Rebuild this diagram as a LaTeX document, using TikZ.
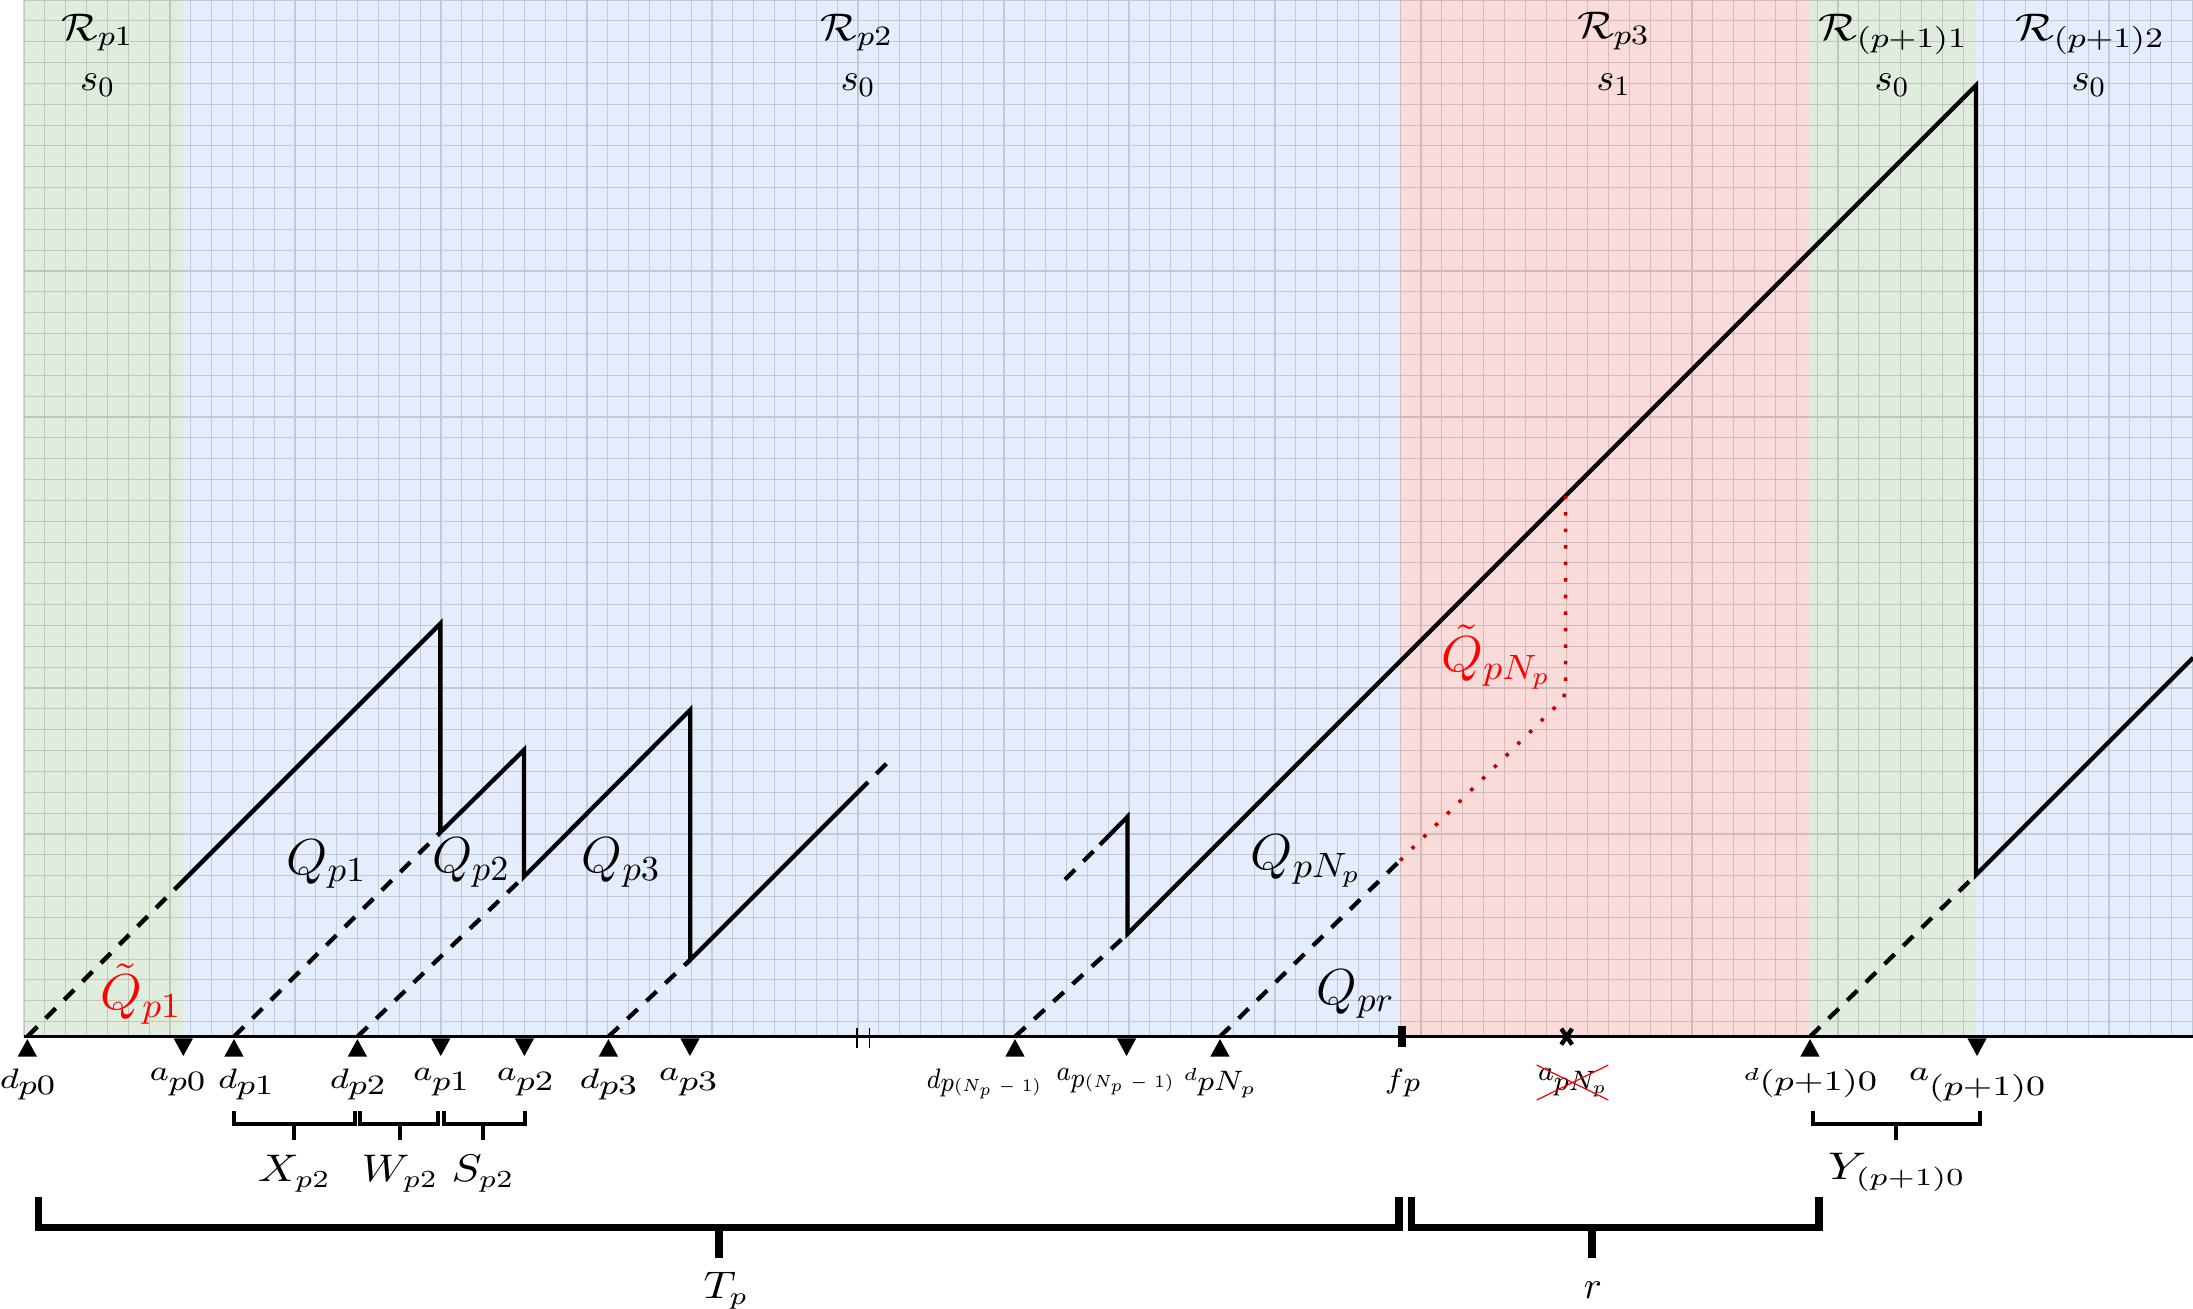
\documentclass[tikz,border=0pt]{standalone}
\usepackage{graphicx}
\usetikzlibrary{shapes.misc}
\definecolor{bgGreen}{RGB}{224,237,222}
\definecolor{bgBlue}{RGB}{228,237,252}
\definecolor{bgRed}{RGB}{249,219,218}
\definecolor{dotRed}{RGB}{200,0,0}
\newcommand\fw[2]{\resizebox{#1}{\height}{#2}}
\newcommand\axl[4]{\resizebox{#4}{\height}{$#1$\raisebox{-#3}{$#2$}}}
\tikzset{
  gridline/.style={black, opacity=0.15, line width=0.32pt},
  curve/.style={line width=1.22pt, line join=miter},
  dashcurve/.style={line width=1.22pt, dash pattern=on 4pt off 3.4pt},
  reddot/.style={dotRed, line width=1pt, dash pattern=on 1pt off 3.7pt},
  axisline/.style={line width=0.65pt},
  smallbr/.style={line width=1.14pt, line join=miter},
  bigbr/.style={line width=2.13pt, line join=miter},
  lbl/.style={inner sep=0pt, outer sep=0pt},
  qlab/.style={lbl, font=\fontsize{14.4}{16}\selectfont, anchor=base},
  rlab/.style={lbl, font=\fontsize{11}{13}\selectfont, anchor=base},
  blab/.style={lbl, font=\fontsize{10.5}{12}\selectfont, anchor=base},
  alab/.style={lbl, font=\fontsize{7.6}{9}\selectfont, anchor=north},
  dtri/.pic={\fill (0,-0.12) -- (0.465,-0.96) -- (-0.465,-0.96) -- cycle;},
  atri/.pic={\fill (-0.465,-0.08) -- (0.465,-0.08) -- (0,-0.93) -- cycle;},
}
\begin{document}
\begin{tikzpicture}[x=2.085mm, y=2.085mm]
\useasboundingbox (-1.151,-13.06) rectangle (104.03,49.72);
% regions
\fill[bgGreen] (0,0) rectangle (7.64,49.72);
\fill[bgBlue] (7.64,0) rectangle (66,49.72);
\fill[bgRed] (66,0) rectangle (85.62,49.72);
\fill[bgGreen] (85.62,0) rectangle (93.6,49.72);
\fill[bgBlue] (93.6,0) rectangle (104.03,49.72);
% grid
\draw[gridline] \foreach \i in {0,...,104}{(\i,0) -- (\i,49.72)}
  \foreach \j in {0,...,49}{(0,{0.72+\j}) -- (104.03,{0.72+\j})};
% axis
\coordinate (O) at (0,0);
\coordinate (Oend) at (104.03,0);
\draw[axisline] (O) -- (Oend);
% markers
\coordinate (d0) at (0.16,0);
\coordinate (a0) at (7.64,0);
\coordinate (d1) at (10.07,0);
\coordinate (d2) at (15.99,0);
\coordinate (a1) at (19.99,0);
\coordinate (a2) at (24.0,0);
\coordinate (d3) at (28.03,0);
\coordinate (a3) at (31.94,0);
\coordinate (brk) at (40.25,0);
\coordinate (dN1) at (47.53,0);
\coordinate (aN1) at (52.88,0);
\coordinate (dN) at (57.36,0);
\coordinate (fp) at (66.08,0);
\coordinate (xm) at (73.99,0);
\coordinate (dP) at (85.66,0);
\coordinate (aP) at (93.67,0);
\foreach \m in {d0,d1,d2,d3,dN1,dN,dP} \pic at (\m) {dtri};
\foreach \m in {a0,a1,a2,a3,aN1,aP} \pic at (\m) {atri};
\draw[line width=0.45pt] (brk) ++(-0.3,0.42) -- ++(0,-0.96) (brk) ++(0.3,0.42) -- ++(0,-0.96);
\draw[line width=2.36pt] (fp) ++(0,0.49) -- ++(0,-0.99);
\draw[line width=1.25pt] (xm) ++(-0.26,-0.38) -- ++(0.52,0.76) (xm) ++(-0.26,0.38) -- ++(0.52,-0.76);
% curve points
\coordinate (A0) at (7.64,7.48);
\coordinate (pk1) at (19.97,19.81);
\coordinate (b1) at (19.97,9.8);
\coordinate (pk2) at (23.98,13.75);
\coordinate (b2) at (23.98,7.67);
\coordinate (pk3) at (31.95,15.67);
\coordinate (b3) at (31.95,3.68);
\coordinate (e1) at (40.0,11.73);
\coordinate (e2) at (41.5,13.23);
\coordinate (f1) at (49.93,7.53);
\coordinate (f2) at (51.6,9.2);
\coordinate (pk4) at (52.93,10.55);
\coordinate (b4) at (52.93,4.93);
\coordinate (pk5) at (93.62,45.62);
\coordinate (b5) at (93.62,7.76);
\coordinate (g) at (104.03,18.17);
\coordinate (c1) at (66.0,8.45);
\coordinate (c2) at (73.94,16.3);
\coordinate (c3) at (73.94,25.94);
% curves
\draw[dashcurve] (d0) -- (A0);
\draw[curve] (A0) -- (pk1) -- (b1) -- (pk2) -- (b2) -- (pk3) -- (b3) -- (e1);
\draw[dashcurve] (e1) -- (e2);
\draw[dashcurve] (d1) -- (b1);
\draw[dashcurve] (d2) -- (b2);
\draw[dashcurve] (d3) -- (b3);
\draw[dashcurve] (f1) -- (f2);
\draw[curve] (f2) -- (pk4) -- (b4) -- (pk5) -- (b5) -- (g);
\draw[dashcurve] (dN1) -- (b4);
\draw[dashcurve] (dN) -- (c1);
\draw[dashcurve] (dP) -- (b5);
\draw[reddot, rounded corners=0.8mm] (c1) -- (c2) -- (c3);
% axis labels
\node[alab] (ld0) at (0.17,-1.53) {\axl{d}{p0}{1.9pt}{5.5mm}};
\node[alab] (la0) at (7.36,-1.53) {\axl{a}{p0}{2.85pt}{5.5mm}};
\node[alab] (ld1) at (10.64,-1.53) {\axl{d}{p1}{1.9pt}{5.5mm}};
\node[alab] (ld2) at (16.0,-1.53) {\axl{d}{p2}{1.9pt}{5.5mm}};
\node[alab] (la1) at (19.99,-1.53) {\axl{a}{p1}{2.85pt}{5.5mm}};
\node[alab] (la2) at (24.03,-1.53) {\axl{a}{p2}{2.85pt}{5.6mm}};
\node[alab] (ld3) at (28.03,-1.53) {\axl{d}{p3}{1.9pt}{5.7mm}};
\node[alab] (la3) at (31.85,-1.53) {\axl{a}{p3}{2.85pt}{5.8mm}};
\node[alab] (ldN1) at (46.04,-1.53) {\axl{d}{p{\scriptstyle(N_p\;-\;1)}}{1pt}{11.4mm}};
\node[alab] (laN1) at (52.33,-1.53) {\axl{a}{p{\scriptstyle(N_p\;-\;1)}}{2pt}{11.7mm}};
\node[alab] (ldN) at (57.36,-1.53) {\axl{\scriptstyle d}{pN_p}{2.85pt}{7.3mm}};
\node[alab] (lfp) at (66.12,-1.53) {\axl{f}{p}{1pt}{3.5mm}};
\node[alab, anchor=center, cross out, draw=red, line width=0.35pt, minimum width=7.16mm, minimum height=3.5mm] (lx) at (74.27,-2.2) {\axl{a}{pN_p}{2.85pt}{6.9mm}};
\node[alab] (ldP) at (85.66,-1.53) {\axl{\scriptstyle d}{(p{+}1)0}{2.85pt}{13.4mm}};
\node[alab] (laP) at (93.67,-1.53) {\axl{a}{(p{+}1)0}{4.3pt}{13.6mm}};
% small brackets
\draw[smallbr] (10.07,-3.58) -- (10.07,-4.21) -- (15.86,-4.21) -- (15.86,-3.58);
\draw[smallbr] (12.97,-4.21) -- (12.97,-4.95);
\draw[smallbr] (16.13,-3.58) -- (16.13,-4.21) -- (19.86,-4.21) -- (19.86,-3.58);
\draw[smallbr] (18.03,-4.21) -- (18.03,-4.95);
\draw[smallbr] (20.12,-3.58) -- (20.12,-4.21) -- (24.05,-4.21) -- (24.05,-3.58);
\draw[smallbr] (22.02,-4.21) -- (22.02,-4.95);
\draw[smallbr] (85.8,-3.58) -- (85.8,-4.21) -- (93.79,-4.21) -- (93.79,-3.58);
\draw[smallbr] (89.78,-4.21) -- (89.78,-4.95);
% big brackets
\draw[bigbr] (0.7,-7.67) -- (0.7,-9.15) -- (65.95,-9.15) -- (65.95,-7.67);
\draw[bigbr] (33.33,-9.15) -- (33.33,-10.63);
\draw[bigbr] (66.55,-7.67) -- (66.55,-9.15) -- (86.09,-9.15) -- (86.09,-7.67);
\draw[bigbr] (75.2,-9.15) -- (75.2,-10.63);
% bracket labels
\node[blab] (Xl) at (12.97,-6.95) {\fw{7.3mm}{$X_{p2}$}};
\node[blab] (Wl) at (18.03,-6.95) {\fw{7.65mm}{$W_{p2}$}};
\node[blab] (Sl) at (22.02,-6.95) {\fw{6.3mm}{$S_{p2}$}};
\node[blab] (Yl) at (89.83,-6.87) {\fw{13.8mm}{$Y_{(p+1)0}$}};
\node[blab] (Tl) at (33.67,-12.55) {\fw{4.5mm}{$T_p$}};
\node[blab] (rl) at (75.25,-12.55) {\fw{1.8mm}{$r$}};
% Q labels
\node[qlab, text=red] (qt1) at (5.62,1.28) {\fw{8.1mm}{$\tilde{Q}_{p1}$}};
\node[qlab] (q1) at (14.51,7.8) {\fw{8.0mm}{$Q_{p1}$}};
\node[qlab] (q2) at (21.44,7.85) {\fw{7.8mm}{$Q_{p2}$}};
\node[qlab] (q3) at (28.65,7.85) {\fw{7.9mm}{$Q_{p3}$}};
\node[qlab] (qN) at (61.5,8.0) {\fw{11.1mm}{$Q_{pN_p}$}};
\node[qlab] (qr) at (63.88,1.55) {\fw{7.8mm}{$Q_{pr}$}};
\node[qlab, text=red] (qtN) at (70.63,17.5) {\fw{11.0mm}{$\tilde{Q}_{pN_p}$}};
% region labels
\node[rlab] (R1) at (3.53,47.8) {\fw{7.2mm}{$\mathcal{R}_{p1}$}};
\node[rlab] (s1) at (3.53,45.37) {\fw{3.5mm}{$s_0$}};
\node[rlab] (R2) at (39.95,47.8) {\fw{7.2mm}{$\mathcal{R}_{p2}$}};
\node[rlab] (s2) at (40.0,45.37) {\fw{3.5mm}{$s_0$}};
\node[rlab] (R3) at (76.24,47.85) {\fw{7.3mm}{$\mathcal{R}_{p3}$}};
\node[rlab] (s3) at (76.24,45.4) {\fw{3.4mm}{$s_1$}};
\node[rlab] (R4) at (89.64,47.8) {\fw{15mm}{$\mathcal{R}_{(p+1)1}$}};
\node[rlab] (s4) at (89.6,45.37) {\fw{3.5mm}{$s_0$}};
\node[rlab] (R5) at (99.09,47.8) {\fw{15mm}{$\mathcal{R}_{(p+1)2}$}};
\node[rlab] (s5) at (99.04,45.37) {\fw{3.5mm}{$s_0$}};
\end{tikzpicture}
\end{document}
